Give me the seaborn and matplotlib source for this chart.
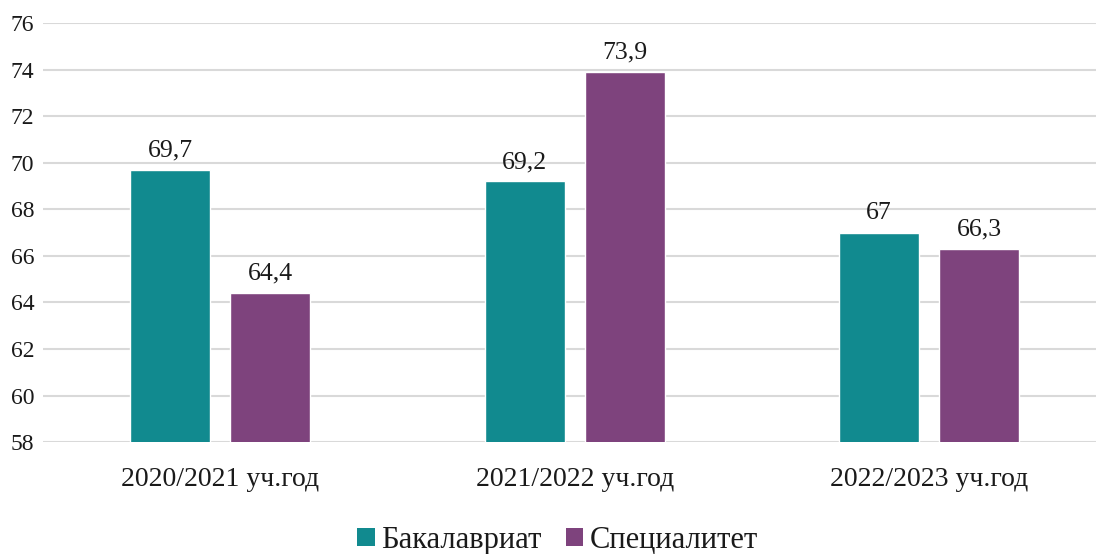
import matplotlib
matplotlib.use("Agg")
import matplotlib.pyplot as plt
import seaborn as sns
import pandas as pd
from matplotlib.patches import Patch

categories = ["2020/2021 уч.год", "2021/2022 уч.год", "2022/2023 уч.год"]
series_names = ["Бакалавриат", "Специалитет"]
bakalavriat = [69.7, 69.2, 67.0]
specialitet = [64.4, 73.9, 66.3]
colors = ["#118A8F", "#7E437D"]

df = pd.DataFrame({
    "cat": categories * 2,
    "series": [series_names[0]] * 3 + [series_names[1]] * 3,
    "val": bakalavriat + specialitet,
})

sns.set_theme(style="white")
plt.rcParams["font.family"] = ["Liberation Serif", "DejaVu Serif"]

fig = plt.figure(figsize=(10.96, 5.54), dpi=100)
ax = fig.add_axes([0.039, 0.202, 0.961, 0.756])

sns.barplot(data=df, x="cat", y="val", hue="series", palette=colors,
            width=0.565, gap=0.2, ax=ax, legend=False, saturation=1)

ax.set_ylim(58, 76)
ax.set_xlim(-0.5, 2.47)
ax.set_yticks(range(58, 77, 2))
ax.yaxis.grid(True, color="#D9D9D9", linewidth=1.5)
ax.set_axisbelow(True)
for s in ax.spines.values():
    s.set_visible(False)
ax.tick_params(axis="both", length=0, colors="#1a1a1a")
ax.tick_params(axis="x", pad=18, labelsize=20)
ax.tick_params(axis="y", pad=6, labelsize=17)
ax.set_xlabel("")
ax.set_ylabel("")

def fmt(v):
    s = f"{v:.1f}".replace(".", ",")
    if s.endswith(",0"):
        s = s[:-2]
    return s

for cont in ax.containers:
    ax.bar_label(cont, labels=[fmt(b.get_height()) for b in cont], padding=6,
                 fontsize=18.5, color="#1a1a1a")

handles = [Patch(facecolor=c, edgecolor="none") for c in colors]
fig.legend(handles, series_names, loc="center", bbox_to_anchor=(0.5087, 0.025),
           ncol=2, frameon=False, fontsize=22, handlelength=0.56, handleheight=0.56,
           handletextpad=0.2, columnspacing=0.82, labelcolor="#1a1a1a")

fig.savefig("out.png", dpi=100)
